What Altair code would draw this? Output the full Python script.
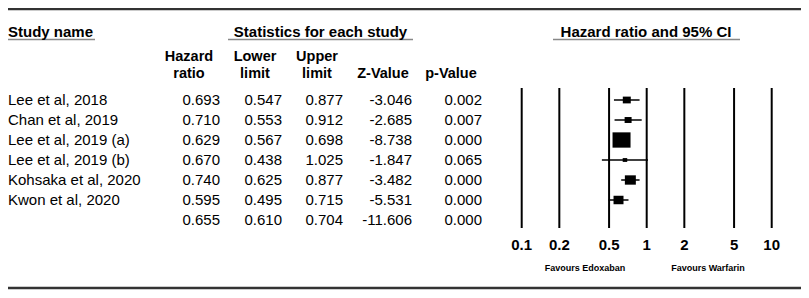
import altair as alt
import pandas as pd

FONT = "Liberation Sans"

# ---- data ----
studies = ["Lee et al, 2018", "Chan et al, 2019", "Lee et al, 2019 (a)",
           "Lee et al, 2019 (b)", "Kohsaka et al, 2020", "Kwon et al, 2020"]
hr = [0.693, 0.710, 0.629, 0.670, 0.740, 0.595]
lower = [0.547, 0.553, 0.567, 0.438, 0.625, 0.495]
upper = [0.877, 0.912, 0.698, 1.025, 0.877, 0.715]
zval = [-3.046, -2.685, -8.738, -1.847, -3.482, -5.531]
pval = [0.002, 0.007, 0.000, 0.065, 0.000, 0.000]
weights = [9.4, 7.2, 47.8, 3.0, 17.8, 14.7]  # relative weight (%)

summary_hr, summary_lower, summary_upper = 0.655, 0.610, 0.704
summary_z, summary_p = -11.606, 0.000

ticks = [0.1, 0.2, 0.5, 1, 2, 5, 10]
tick_labels = ["0.1", "0.2", "0.5", "1", "2", "5", "10"]

# ---- tables ----
n = len(studies)
tab = pd.DataFrame({
    "row": list(range(n + 1)),
    "study": studies + [""],
    "hr": [f"{v:.3f}" for v in hr + [summary_hr]],
    "lo": [f"{v:.3f}" for v in lower + [summary_lower]],
    "up": [f"{v:.3f}" for v in upper + [summary_upper]],
    "z": [f"{v:.3f}" for v in zval + [summary_z]],
    "p": [f"{v:.3f}" for v in pval + [summary_p]],
})
stud = pd.DataFrame({"row": list(range(n)), "hr": hr, "lower": lower,
                     "upper": upper, "w": weights})
tk = pd.DataFrame({"tick": ticks, "label": tick_labels})
H = 0.375
dia = pd.DataFrame({
    "y": [n - H, n, n + H],
    "x": [summary_hr, summary_lower, summary_hr],
    "x2": [summary_hr, summary_upper, summary_hr],
    "o": [0, 1, 2],
})
one = pd.DataFrame({"a": [0]})

xs = alt.Scale(type="log", domain=[0.1, 10], range=[513.7, 763.7])
ys = alt.Scale(domain=[0, n], range=[92, 212], zero=False, nice=False)
X = lambda f: alt.X(f, type="quantitative", scale=xs, axis=None)
Y = lambda f: alt.Y(f, type="quantitative", scale=ys, axis=None)


def rule(x1, x2, y, color="#333", w=2.5):
    return alt.Chart(one).mark_rule(color=color, strokeWidth=w).encode(
        x=alt.value(x1), x2=alt.value(x2), y=alt.value(y))


def label(txt, x, y, align="center", size=15, bold=True):
    return alt.Chart(one).mark_text(
        text=txt, align=align, baseline="middle", font=FONT, fontSize=size,
        fontWeight="bold" if bold else "normal", color="black"
    ).encode(x=alt.value(x), y=alt.value(y))


def col(field, x, align="right"):
    return alt.Chart(tab).mark_text(
        align=align, baseline="middle", font=FONT, fontSize=15, color="black"
    ).encode(x=alt.value(x), y=Y("row"), text=alt.Text(field, type="nominal"))


layers = [
    rule(0, 793, 1),
    rule(0, 793, 280),
    rule(0, 87, 31.5, "#888", 1.5),
    rule(220, 405, 31.5, "#888", 1.5),
    rule(545, 732, 31.5, "#888", 1.5),
    label("Study name", 0, 24, align="left"),
    label("Statistics for each study", 312.5, 24),
    label("Hazard ratio and 95% CI", 638, 24),
    label("Hazard", 181, 49, size=14.5), label("ratio", 181, 65.5, size=14.5),
    label("Lower", 247, 49, size=14.5), label("limit", 247, 65.5, size=14.5),
    label("Upper", 309, 49, size=14.5), label("limit", 309, 65.5, size=14.5),
    label("Z-Value", 375, 65.5, size=14.5),
    label("p-Value", 443, 65.5, size=14.5),
    col("study", 0, "left"),
    col("hr", 212), col("lo", 274), col("up", 335), col("z", 404), col("p", 474),
    # grid
    alt.Chart(tk).mark_rule(color="black", strokeWidth=2).encode(
        x=X("tick"), y=alt.value(80), y2=alt.value(220)),
    alt.Chart(tk).mark_text(font=FONT, fontSize=15, fontWeight="bold",
                            baseline="middle", color="black").encode(
        x=X("tick"), y=alt.value(237), text="label:N"),
    label("Favours Edoxaban", 577, 260, size=9),
    label("Favours Warfarin", 700, 260, size=9),
    # CI lines
    alt.Chart(stud).mark_rule(color="black", strokeWidth=1.5).encode(
        x=X("lower"), x2="upper", y=Y("row")),
    # boxes
    alt.Chart(stud).mark_point(
        shape="M-1,-0.85L1,-0.85L1,0.85L-1,0.85Z", filled=True,
        color="black", opacity=1, strokeWidth=0).encode(
        x=X("hr"), y=Y("row"),
        size=alt.Size("w:Q", scale=alt.Scale(domain=[0, 47.8], range=[0, 324]),
                      legend=None)),
    # diamond
    alt.Chart(dia).mark_area(color="black", orient="horizontal", opacity=1).encode(
        y=Y("y"), x=X("x"), x2="x2", order="o:Q"),
]

chart = alt.layer(*layers).properties(
    width=793, height=282, padding=0, autosize="none"
).configure_view(stroke=None)

chart.save("out.html", embed_options={"renderer": "svg", "actions": False})
